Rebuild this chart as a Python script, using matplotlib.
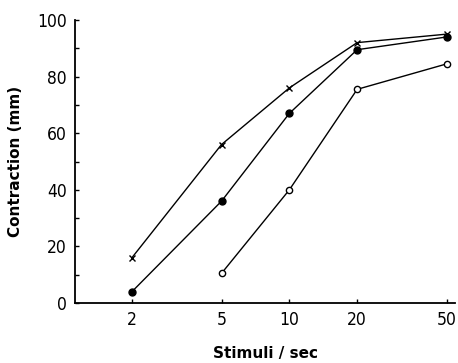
import matplotlib
matplotlib.use("Agg")
import matplotlib.pyplot as plt
from matplotlib.ticker import FixedLocator, NullFormatter

stimuli = [2, 5, 10, 20, 50]
cross = [16, 56, 76, 92, 95]
filled = [4, 36, 67, 89.5, 94]
open_x = [5, 10, 20, 50]
open_y = [10.5, 40, 75.5, 84.5]
xticks = [2, 5, 10, 20, 50]
yticks = [0, 20, 40, 60, 80, 100]

fig = plt.figure(figsize=(4.58, 3.63), dpi=100)
ax = fig.add_axes([0.164, 0.165, 0.83, 0.78])

ax.plot(stimuli, cross, color="black", lw=1, marker="x", ms=4, mew=1)
ax.plot(stimuli, filled, color="black", lw=1, marker="o", ms=5)
ax.plot(open_x, open_y, color="black", lw=1, marker="o", ms=4.5,
        mfc="white", mew=1)

ax.set_xscale("log")
ax.set_xlim(1.12, 54.5)
ax.set_ylim(0, 100)
ax.xaxis.set_major_locator(FixedLocator(xticks))
ax.xaxis.set_minor_locator(FixedLocator([]))
ax.xaxis.set_minor_formatter(NullFormatter())
ax.set_xticklabels([str(t) for t in xticks])
ax.set_yticks(yticks)
ax.set_yticks(range(0, 101, 10), minor=True)

for s in ["top", "right"]:
    ax.spines[s].set_visible(False)
ax.spines["left"].set_linewidth(1.3)
ax.spines["bottom"].set_linewidth(1.3)
ax.tick_params(which="both", direction="in", length=3, width=1)
ax.tick_params(axis="both", labelsize=12.5, pad=6)
for lab in ax.get_xticklabels() + ax.get_yticklabels():
    lab.set_family("DejaVu Sans")
    lab.set_stretch("condensed")

ax.set_ylabel("Contraction (mm)", fontsize=11, fontweight="semibold", labelpad=10)
ax.set_xlabel("Stimuli / sec", fontsize=11, fontweight="semibold", labelpad=12)

fig.savefig("out.png", dpi=100)
